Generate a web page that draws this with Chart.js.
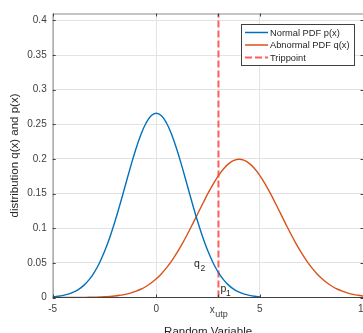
<!DOCTYPE html>
<html><head><meta charset="utf-8">
<script src="https://cdn.jsdelivr.net/npm/chart.js@4"></script>
<style>
html,body{margin:0;padding:0;background:#fff;overflow:hidden;width:363px;height:333px}
#wrap{position:absolute;left:0;top:0;width:400px;height:333px}
canvas{display:block}
</style></head>
<body><div id="wrap"><canvas id="c" width="400" height="333"></canvas></div>
<script>
// ---- data ----
const xNormal = [-5,-4.75,-4.5,-4.25,-4,-3.75,-3.5,-3.25,-3,-2.75,-2.5,-2.25,-2,-1.75,-1.5,-1.25,-1,-0.75,-0.5,-0.25,0,
  0.25,0.5,0.75,1,1.25,1.5,1.75,2,2.25,2.5,2.75,3,3.25,3.5,3.75,4,4.25,4.5,4.75,5];
const normalPDF = [0.0010,0.0018,0.0030,0.0048,0.0076,0.0117,0.0175,0.0254,0.0360,0.0495,0.0663,0.0863,0.1093,0.1347,0.1613,0.1879,0.2130,0.2347,0.2516,0.2623,0.2660,
  0.2623,0.2516,0.2347,0.2130,0.1879,0.1613,0.1347,0.1093,0.0863,0.0663,0.0495,0.0360,0.0254,0.0175,0.0117,0.0076,0.0048,0.0030,0.0018,0.0010];
const xAbnormal = [-5,-4.75,-4.5,-4.25,-4,-3.75,-3.5,-3.25,-3,-2.75,-2.5,-2.25,-2,-1.75,-1.5,-1.25,-1,-0.75,-0.5,-0.25,0,
  0.25,0.5,0.75,1,1.25,1.5,1.75,2,2.25,2.5,2.75,3,3.25,3.5,3.75,4,4.25,4.5,4.75,5,
  5.25,5.5,5.75,6,6.25,6.5,6.75,7,7.25,7.5,7.75,8,8.25,8.5,8.75,9,9.25,9.5,9.75,10];
const abnormalPDF = [0.0000,0.0000,0.0000,0.0000,0.0001,0.0001,0.0002,0.0003,0.0004,0.0007,0.0010,0.0015,0.0022,0.0032,0.0045,0.0064,0.0088,0.0119,0.0159,0.0209,0.0270,
  0.0344,0.0431,0.0533,0.0648,0.0775,0.0913,0.1059,0.1210,0.1360,0.1506,0.1641,0.1760,0.1859,0.1933,0.1979,0.1995,0.1979,0.1933,0.1859,0.1760,
  0.1641,0.1506,0.1360,0.1210,0.1059,0.0913,0.0775,0.0648,0.0533,0.0431,0.0344,0.0270,0.0209,0.0159,0.0119,0.0088,0.0064,0.0045,0.0032,0.0022];
const tripointX = [3, 3];
const tripointY = [0, 0.41];
const xTicks = [-5, 0, 5, 10];
const yTicks = [0, 0.05, 0.1, 0.15, 0.2, 0.25, 0.3, 0.35, 0.4];
const seriesNames = ['Normal PDF p(x)', 'Abnormal PDF q(x)', 'Trippoint'];
const xTitle = 'Random Variable';
const yTitle = 'distribution q(x) and p(x)';

const FAM = '"Liberation Sans", Arial, Helvetica, sans-serif';
const COLORS = ['#0072BD', '#D95319', '#ff5c5c'];
const pts = (xs, ys) => xs.map((x, i) => ({x: x, y: ys[i]}));

const annot = {
  id: 'annot',
  afterDraw(chart) {
    const c = chart.ctx, a = chart.chartArea;
    const xs = chart.scales.x, ys = chart.scales.y;
    c.save();
    // box
    c.lineWidth = 1;
    c.strokeStyle = '#8a8a8a';
    c.beginPath();
    c.moveTo(a.left + 0.5, a.bottom); c.lineTo(a.left + 0.5, a.top + 0.5);
    c.lineTo(a.right, a.top + 0.5); c.lineTo(a.right, a.bottom);
    c.stroke();
    c.strokeStyle = '#404040';
    c.beginPath(); c.moveTo(a.left, a.bottom); c.lineTo(a.right, a.bottom); c.stroke();
    // inward ticks
    c.strokeStyle = '#404040';
    c.beginPath();
    xTicks.concat([3]).forEach(v => {
      const px = Math.round(xs.getPixelForValue(v)) + 0.5;
      c.moveTo(px, a.bottom); c.lineTo(px, a.bottom - 3);
      c.moveTo(px, a.top); c.lineTo(px, a.top + 3);
    });
    yTicks.forEach(v => {
      const py = Math.round(ys.getPixelForValue(v)) + 0.5;
      c.moveTo(a.left, py); c.lineTo(a.left + 3, py);
      c.moveTo(a.right, py); c.lineTo(a.right - 3, py);
    });
    c.stroke();

    // legend
    const lx = 241.5, ly = 24.5, lw = 113, lh = 41;
    c.fillStyle = '#fff';
    c.fillRect(lx, ly, lw, lh);
    c.strokeStyle = '#404040'; c.lineWidth = 1;
    c.strokeRect(lx, ly, lw, lh);
    const rows = [32.5, 45, 57.5];
    c.font = '9.3px ' + FAM;
    c.textBaseline = 'middle'; c.textAlign = 'left';
    seriesNames.forEach((n, i) => {
      c.strokeStyle = COLORS[i];
      c.lineWidth = i === 2 ? 2 : 1.5;
      c.setLineDash(i === 2 ? [7, 3] : []);
      c.beginPath(); c.moveTo(245, rows[i]); c.lineTo(268, rows[i]); c.stroke();
      c.setLineDash([]);
      c.fillStyle = '#262626';
      c.fillText(n, 270, rows[i] + 0.5);
    });

    // annotations
    c.fillStyle = '#262626';
    c.textBaseline = 'alphabetic';
    c.font = '10.5px ' + FAM; c.fillText('q', 194, 267);
    c.font = '8.5px ' + FAM; c.fillText('2', 200.5, 271);
    c.font = '10.5px ' + FAM; c.fillText('p', 220.5, 292);
    c.font = '8.5px ' + FAM; c.fillText('1', 226, 296);

    // x_utp tick label
    const tx = xs.getPixelForValue(tripointX[0]);
    c.font = '10px ' + FAM;
    const w1 = c.measureText('x').width;
    c.font = '9px ' + FAM;
    const w2 = c.measureText('utp').width;
    const sx = tx - (w1 + w2) / 2;
    c.fillStyle = '#404040';
    c.font = '10px ' + FAM; c.fillText('x', sx, 312.5);
    c.font = '9px ' + FAM; c.fillText('utp', sx + w1 + 0.5, 316.5);

    // axis titles
    c.fillStyle = '#262626';
    c.font = '11.5px ' + FAM;
    c.textAlign = 'center';
    c.fillText(xTitle, (a.left + a.right) / 2, 334.5);
    c.translate(15, (a.top + a.bottom) / 2);
    c.rotate(-Math.PI / 2);
    c.textBaseline = 'middle';
    c.fillText(yTitle, 0, 0);
    c.restore();
  }
};

new Chart(document.getElementById('c').getContext('2d'), {
  type: 'line',
  data: {
    datasets: [
      {label: seriesNames[0], data: pts(xNormal, normalPDF), borderColor: COLORS[0], borderWidth: 1.4, pointRadius: 0, tension: 0.4, fill: false},
      {label: seriesNames[1], data: pts(xAbnormal, abnormalPDF), borderColor: COLORS[1], borderWidth: 1.4, pointRadius: 0, tension: 0.4, fill: false},
      {label: seriesNames[2], data: pts(tripointX, tripointY), borderColor: COLORS[2], borderWidth: 2, borderDash: [7, 3], pointRadius: 0, tension: 0, fill: false}
    ]
  },
  options: {
    animation: false, responsive: false, devicePixelRatio: 1,
    layout: {autoPadding: false, padding: {left: 0, top: 13.5, right: 36.5, bottom: 0}},
    plugins: {legend: {display: false}, tooltip: {enabled: false}},
    scales: {
      x: {
        type: 'linear', min: -5, max: 10,
        afterFit(s) { s.height = 35.5; },
        afterBuildTicks(s) { s.ticks = xTicks.map(v => ({value: v})); },
        grid: {color: '#e3e3e3', drawTicks: false},
        border: {display: false},
        ticks: {padding: 6, color: '#404040', font: {family: FAM, size: 10}, maxRotation: 0, autoSkip: false, callback: v => String(v)}
      },
      y: {
        type: 'linear', min: 0, max: 0.41,
        afterFit(s) { s.width = 52.7; },
        afterBuildTicks(s) { s.ticks = yTicks.map(v => ({value: v})); },
        grid: {color: '#e3e3e3', drawTicks: false},
        border: {display: false},
        ticks: {padding: 6, color: '#404040', font: {family: FAM, size: 10}, autoSkip: false, callback: v => String(+Number(v).toFixed(2))}
      }
    }
  },
  plugins: [annot]
});
</script>
</body></html>
